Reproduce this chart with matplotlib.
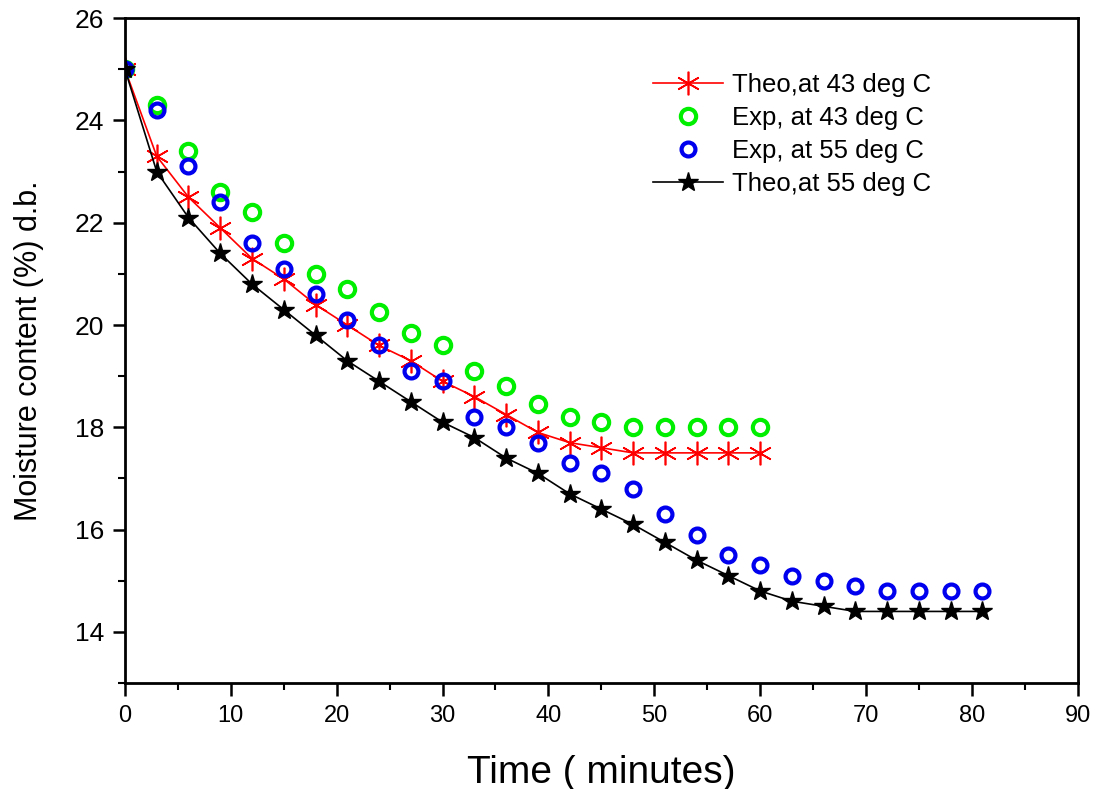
import matplotlib
matplotlib.use("Agg")
import matplotlib.pyplot as plt
from matplotlib.ticker import MultipleLocator

plt.rcParams['font.family'] = ['Liberation Sans', 'DejaVu Sans']

# time in minutes
t43 = [0, 3, 6, 9, 12, 15, 18, 21, 24, 27, 30, 33, 36, 39, 42, 45, 48, 51, 54, 57, 60]
t55 = [0, 3, 6, 9, 12, 15, 18, 21, 24, 27, 30, 33, 36, 39, 42, 45, 48, 51, 54, 57,
       60, 63, 66, 69, 72, 75, 78, 81]

theo43 = [25, 23.3, 22.5, 21.9, 21.3, 20.9, 20.4, 20.0, 19.6, 19.3, 18.9, 18.6, 18.25,
          17.9, 17.7, 17.6, 17.5, 17.5, 17.5, 17.5, 17.5]
exp43 = [25, 24.3, 23.4, 22.6, 22.2, 21.6, 21.0, 20.7, 20.25, 19.85, 19.6, 19.1, 18.8,
         18.45, 18.2, 18.1, 18.0, 18.0, 18.0, 18.0, 18.0]
exp55 = [25, 24.2, 23.1, 22.4, 21.6, 21.1, 20.6, 20.1, 19.6, 19.1, 18.9, 18.2, 18.0,
         17.7, 17.3, 17.1, 16.8, 16.3, 15.9, 15.5, 15.3, 15.1, 15.0, 14.9, 14.8, 14.8,
         14.8, 14.8]
theo55 = [25, 23.0, 22.1, 21.4, 20.8, 20.3, 19.8, 19.3, 18.9, 18.5, 18.1, 17.8, 17.4,
          17.1, 16.7, 16.4, 16.1, 15.75, 15.4, 15.1, 14.8, 14.6, 14.5, 14.4, 14.4, 14.4,
          14.4, 14.4]

fig = plt.figure(figsize=(11.02, 7.89), dpi=100)
ax = fig.add_axes([0.1134, 0.1343, 0.8646, 0.8427])

ax.plot(t43, theo43, color='red', lw=1.2, marker=(6, 2, 0), ms=17, mew=1.2,
        label='Theo,at 43 deg C')
ax.plot(t43, exp43, ls='none', marker='o', ms=11, mfc='none', mec='#00ee00', mew=3,
        label='Exp, at 43 deg C')
ax.plot(t55, exp55, ls='none', marker='o', ms=10, mfc='none', mec='#0000ee', mew=3,
        label='Exp, at 55 deg C')
ax.plot(t55, theo55, color='black', lw=1.2, marker='*', ms=15,
        label='Theo,at 55 deg C')

ax.set_xlim(0, 90)
ax.set_ylim(13, 26)
ax.xaxis.set_major_locator(MultipleLocator(10))
ax.xaxis.set_minor_locator(MultipleLocator(5))
ax.yaxis.set_major_locator(MultipleLocator(2))
ax.yaxis.set_minor_locator(MultipleLocator(1))
ax.tick_params(which='major', direction='out', length=9, width=1.8)
ax.tick_params(which='minor', direction='out', length=5, width=1.5)
ax.tick_params(axis='y', labelsize=19, pad=6)
ax.tick_params(axis='x', labelsize=17, pad=7)
for s in ax.spines.values():
    s.set_linewidth(2)

ax.set_xlabel('Time ( minutes)', fontsize=28, labelpad=20)
ax.set_ylabel('Moisture content (%) d.b.', fontsize=22, labelpad=22)

ax.legend(loc='upper left', bbox_to_anchor=(0.554, 0.917), frameon=False, fontsize=18.5,
          borderaxespad=0, borderpad=0, handlelength=2.75, handletextpad=0.35,
          labelspacing=0.35)

fig.savefig('out.png', dpi=100)
